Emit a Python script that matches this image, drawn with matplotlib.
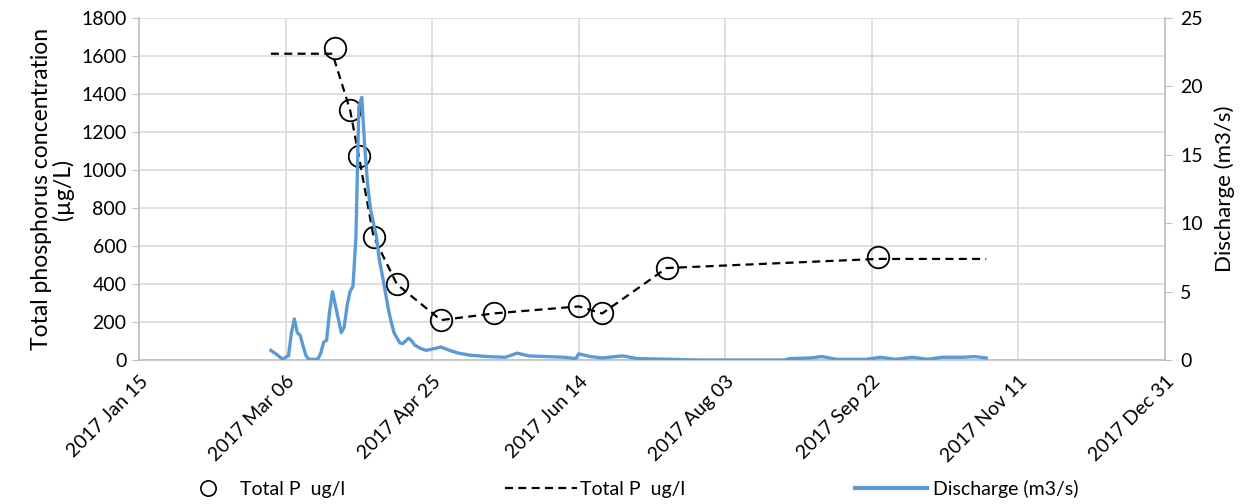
import matplotlib
matplotlib.use("Agg")
import matplotlib.pyplot as plt
from matplotlib.lines import Line2D
import datetime as dt

plt.rcParams['font.family'] = ['Lato', 'DejaVu Sans']

# ---- data ----
tp_dates = ["2017-03-23", "2017-03-28", "2017-03-31", "2017-04-05", "2017-04-13",
            "2017-04-28", "2017-05-16", "2017-06-14", "2017-06-22", "2017-07-14",
            "2017-09-24"]
tp_values = [1640, 1316, 1072, 650, 398, 210, 245, 282, 245, 484, 542]

tp_line_dates = ["2017-03-01", "2017-03-22", "2017-03-28", "2017-03-31", "2017-04-05",
                 "2017-04-13", "2017-04-28", "2017-05-16", "2017-06-14", "2017-06-22",
                 "2017-07-14", "2017-09-24", "2017-10-31"]
tp_line_values = [1612, 1612, 1316, 1072, 650, 398, 210, 245, 282, 245, 484, 532, 532]

q_dates = ["2017-03-01", "2017-03-03", "2017-03-05", "2017-03-06", "2017-03-07",
           "2017-03-08", "2017-03-09", "2017-03-10", "2017-03-11", "2017-03-12",
           "2017-03-13", "2017-03-14", "2017-03-17", "2017-03-18", "2017-03-19",
           "2017-03-20", "2017-03-21", "2017-03-22", "2017-03-23", "2017-03-24",
           "2017-03-25", "2017-03-26", "2017-03-27", "2017-03-28", "2017-03-29",
           "2017-03-30", "2017-03-31", "2017-04-01", "2017-04-02", "2017-04-03",
           "2017-04-04", "2017-04-05", "2017-04-06", "2017-04-07", "2017-04-08",
           "2017-04-09", "2017-04-10", "2017-04-11", "2017-04-12", "2017-04-13",
           "2017-04-14", "2017-04-15", "2017-04-16", "2017-04-17", "2017-04-18",
           "2017-04-19", "2017-04-21", "2017-04-23", "2017-04-26", "2017-04-28",
           "2017-05-01", "2017-05-04", "2017-05-08", "2017-05-14", "2017-05-20",
           "2017-05-24", "2017-05-28", "2017-06-03", "2017-06-09", "2017-06-13",
           "2017-06-14", "2017-06-18", "2017-06-22", "2017-06-29", "2017-07-04",
           "2017-07-15", "2017-07-25", "2017-08-23", "2017-08-25", "2017-09-01",
           "2017-09-05", "2017-09-10", "2017-09-20", "2017-09-25", "2017-09-30",
           "2017-10-06", "2017-10-11", "2017-10-16", "2017-10-23", "2017-10-27",
           "2017-10-31"]
q_values = [0.7, 0.4, 0.05, 0.2, 0.3,
            2.0, 3.0, 2.0, 1.8, 1.0,
            0.3, 0.05, 0.05, 0.5, 1.3,
            1.45, 3.5, 5.0, 4.0, 3.0,
            2.0, 2.4, 4.0, 5.0, 5.4,
            9.0, 18.5, 19.2, 15.6, 12.8,
            11.0, 10.0, 9.0, 7.3, 6.2,
            5.0, 3.8, 2.8, 2.0, 1.6,
            1.25, 1.2, 1.4, 1.6, 1.4,
            1.1, 0.85, 0.7, 0.85, 0.95,
            0.7, 0.5, 0.35, 0.25, 0.2,
            0.5, 0.3, 0.25, 0.2, 0.1,
            0.45, 0.25, 0.15, 0.3, 0.1,
            0.05, 0.0, 0.0, 0.1, 0.15,
            0.25, 0.05, 0.05, 0.2, 0.05,
            0.2, 0.05, 0.2, 0.2, 0.25,
            0.15]

x_ticks = ["2017-01-15", "2017-03-06", "2017-04-25", "2017-06-14",
           "2017-08-03", "2017-09-22", "2017-11-11", "2017-12-31"]
x_tick_labels = ["2017 Jan 15", "2017 Mar 06", "2017 Apr 25", "2017 Jun 14",
                 "2017 Aug 03", "2017 Sep 22", "2017 Nov 11", "2017 Dec 31"]
y1_ticks = [0, 200, 400, 600, 800, 1000, 1200, 1400, 1600, 1800]
y2_ticks = [0, 5, 10, 15, 20, 25]

def d(s):
    return dt.datetime.strptime(s, "%Y-%m-%d")

tp_d = [d(s) for s in tp_dates]
tpl_d = [d(s) for s in tp_line_dates]
q_d = [d(s) for s in q_dates]
xt = [d(s) for s in x_ticks]

fig = plt.figure(figsize=(12.5, 5.04), dpi=100)
ax1 = fig.add_axes([139/1250, 1-360/504, (1165-139)/1250, (360-18)/504])
ax2 = ax1.twinx()

grid_c = '#d9d9d9'
spine_c = '#bfbfbf'

ax1.plot(tpl_d, tp_line_values, color='black', lw=1.6, dashes=(3.6, 2.4), zorder=3)
ax1.plot(tp_d, tp_values, linestyle='none', marker='o', markersize=15.5,
         markerfacecolor='none', markeredgecolor='black', markeredgewidth=1.3, zorder=4)
ax2.plot(q_d, q_values, color='#5b9bd5', lw=2.4, solid_joinstyle='round', zorder=5)

ax1.set_xlim(xt[0], xt[-1])
ax1.set_ylim(0, 1800)
ax2.set_ylim(0, 25)
ax1.set_xticks(xt)
ax1.set_xticklabels(x_tick_labels, rotation=45, ha='right', rotation_mode='anchor')
ax1.set_yticks(y1_ticks)
ax2.set_yticks(y2_ticks)

ax1.grid(True, color=grid_c, lw=1.2)
ax1.set_axisbelow(True)

for ax in (ax1, ax2):
    for s in ax.spines.values():
        s.set_visible(False)
ax2.spines['right'].set_visible(True)
ax2.spines['right'].set_color(spine_c)
ax2.spines['right'].set_linewidth(1.2)
ax1.spines['bottom'].set_visible(True)
ax1.spines['bottom'].set_color(spine_c)
ax1.spines['bottom'].set_linewidth(1.2)
ax1.spines['left'].set_visible(True)
ax1.spines['left'].set_color(spine_c)
ax1.spines['left'].set_linewidth(1.2)

ax1.tick_params(axis='y', labelsize=14, length=5, color=spine_c, pad=4)
ax1.tick_params(axis='x', labelsize=14, length=0, pad=9)
ax2.tick_params(axis='y', labelsize=14, length=5, color=spine_c, pad=6)

ax1.set_ylabel("Total phosphorus concentration\n(µg/L)", fontsize=16.5, linespacing=1.0, labelpad=5)
ax2.set_ylabel("Discharge (m3/s)", fontsize=16, labelpad=8)

# legends
fs = 14
h1 = Line2D([], [], linestyle='none', marker='o', markersize=11, markerfacecolor='none',
            markeredgecolor='black', markeredgewidth=1.2)
h2 = Line2D([], [], color='black', lw=1.6, dashes=(3.6, 2.4))
h3 = Line2D([], [], color='#5b9bd5', lw=3)
common = dict(frameon=False, fontsize=fs, borderpad=0, borderaxespad=0, loc='center left')
fig.legend([h1], ["Total P  ug/l"], bbox_to_anchor=(190/1250, 1-489/504),
           handlelength=1.8, handletextpad=0.75, **common)
fig.legend([h2], ["Total P  ug/l"], bbox_to_anchor=(505/1250, 1-489/504),
           handlelength=3.7, handletextpad=0.15, **common)
fig.legend([h3], ["Discharge (m3/s)"], bbox_to_anchor=(855/1250, 1-489/504),
           handlelength=3.7, handletextpad=0.3, **common)

fig.savefig("out.png", dpi=100)
